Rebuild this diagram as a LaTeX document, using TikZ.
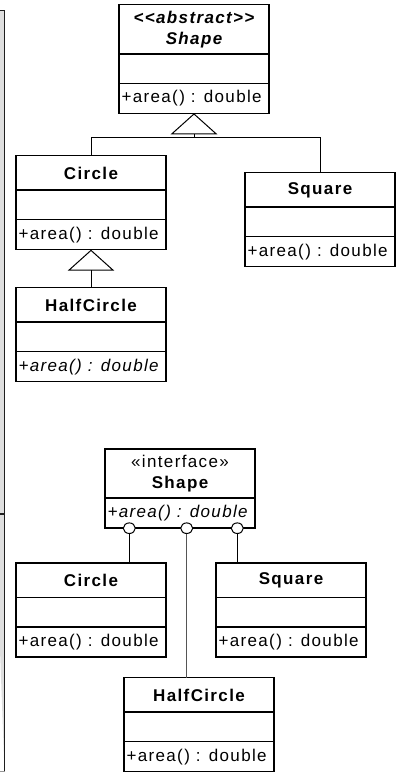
\documentclass[tikz,border=0pt]{standalone}
\usepackage{fontspec}
\setmainfont{Liberation Sans}[LetterSpace=8]
\usetikzlibrary{shapes.multipart,shapes.geometric,arrows.meta,calc}

\tikzset{every picture/.style={line width=1pt}}

% compartments of a class box
\newcommand{\headpart}[2][33pt]{\parbox[c][#1][c]{150pt}{\centering #2\par}}
\newcommand{\gappart}{\parbox[c][28pt]{150pt}{\mbox{}}}
\newcommand{\oppart}[1]{\parbox[c][28.5pt][c]{150pt}{\raggedright\hspace*{2.5pt}#1\par}}

\begin{document}
\fontsize{17}{21}\selectfont
\begin{tikzpicture}[x=1pt,y=1pt,yscale=-1,xscale=1,
	umlclass/.style={draw, line width=1.5pt, rectangle split, rectangle split parts=#1, inner sep=0pt, outer sep=0pt, anchor=north west},
	umlclass/.default=3,
	inherit/.style={-{Triangle[open, length=21pt, width=46.6pt]}},
	lolli/.style={ellipse, draw, fill=white, inner sep=0pt, outer sep=0pt, minimum width=12pt, minimum height=10.6pt},
	midline/.style={draw={rgb,255:red,85;green,85;blue,85}, line width=1.2pt}]
	\useasboundingbox (0,0) rectangle (401,773);

	% frames cut off at the left edge
	\draw [fill={rgb,255:red,222;green,222;blue,222}, draw={rgb,255:red,30;green,30;blue,30}, line width=1.4pt] (-5,10.7) -- (4.5,10.7) -- (4.5,514) -- (-5,514) ;
	\draw [fill={rgb,255:red,222;green,222;blue,222}, draw={rgb,255:red,30;green,30;blue,30}, line width=1.4pt] (-5,514) -- (4.5,514) -- (4.5,771.7) ;
	\draw [draw={rgb,255:red,150;green,150;blue,150}, line width=1.4pt] (4.5,771.7) -- (-5,771.7) ;

	% abstract class version
	\node [umlclass] (absShape) at (119,4.7) {\headpart[47.6pt]{\bfseries\itshape <{}<abstract>{}>\\Shape}\nodepart{two}\gappart\nodepart{three}\oppart{+area() : double}};
	\node [umlclass] (circle) at (16,155.7) {\headpart{\bfseries Circle}\nodepart{two}\gappart\nodepart{three}\oppart{+area() : double}};
	\node [umlclass] (square) at (245,172.7) {\headpart{\bfseries Square}\nodepart{two}\gappart\nodepart{three}\oppart{+area() : double}};
	\node [umlclass] (halfCircle) at (16,287.7) {\headpart{\bfseries HalfCircle}\nodepart{two}\gappart\nodepart{three}\oppart{\itshape +area() : double}};

	\coordinate (hubA) at ($(absShape.south)+(0,24)$);
	\draw [inherit] (circle.north) |- (hubA) -- (absShape.south);
	\draw (square.north) |- (hubA);
	\draw [inherit] (halfCircle.north) -- (circle.south);

	% interface version
	\node [umlclass=2] (iface) at (105,449) {\headpart[47.7pt]{\baselineskip=21.5pt «interface»\\\bfseries Shape}\nodepart{two}\oppart{\itshape +area() : double}};
	\node [umlclass] (circleB) at (16,563) {\headpart{\bfseries Circle}\nodepart{two}\gappart\nodepart{three}\oppart{+area() : double}};
	\node [umlclass] (squareB) at (216,563) {\headpart{\bfseries Square}\nodepart{two}\gappart\nodepart{three}\oppart{+area() : double}};
	\node [umlclass] (halfCircleB) at (124,677.7) {\headpart{\bfseries HalfCircle}\nodepart{two}\gappart\nodepart{three}\oppart{+area() : double}};

	\node [lolli] (lolA) at ($(iface.south west)+(24.3,0)$) {};
	\node [lolli] (lolB) at ($(iface.south west)+(81.7,0)$) {};
	\node [lolli] (lolC) at ($(iface.south west)+(132.3,0)$) {};
	\draw (lolA.south) -- (lolA |- circleB.north);
	\draw [midline] (lolB.south) -- (lolB |- halfCircleB.north);
	\draw (lolC.south) -- (lolC |- squareB.north);

\end{tikzpicture}
\end{document}
